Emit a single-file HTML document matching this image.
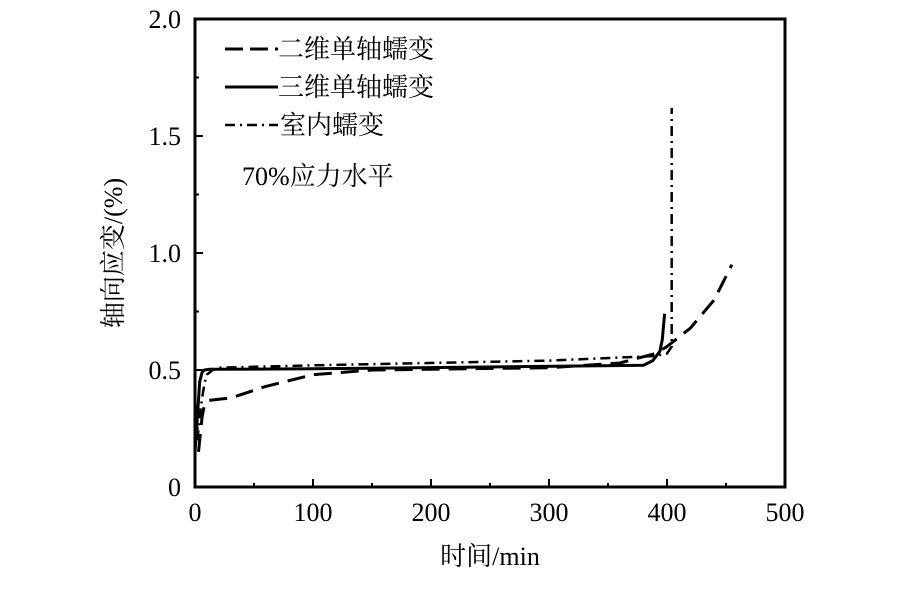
<!DOCTYPE html>
<html><head><meta charset="utf-8"><style>
body{margin:0;background:#fff}
svg text{font-family:"Liberation Serif","Noto Serif CJK SC","Noto Sans CJK SC",serif;fill:#000}
</style></head><body>
<svg id="chart" width="919" height="586" viewBox="0 0 919 586" xmlns="http://www.w3.org/2000/svg">
<g id="axes"></g><g id="series"></g>
<g>
<line x1="225" y1="49" x2="278" y2="49" stroke="#000" stroke-width="3" stroke-dasharray="18,7"/>
<text x="278" y="58" font-size="26">二维单轴蠕变</text>
<line x1="225" y1="87" x2="278" y2="87" stroke="#000" stroke-width="3"/>
<text x="278" y="96" font-size="26">三维单轴蠕变</text>
<line x1="225" y1="125" x2="278" y2="125" stroke="#000" stroke-width="2.5" stroke-dasharray="10,5,2,5"/>
<text x="280" y="134" font-size="26">室内蠕变</text>
<text x="242" y="185" font-size="26">70%应力水平</text>
</g>
<text x="490" y="565" font-size="26" text-anchor="middle">时间/min</text>
<text transform="translate(122,253) rotate(-90)" font-size="26" text-anchor="middle">轴向应变/(%)</text>
</svg>
<script>
const xTicks=[0,100,200,300,400,500];
const xMinorTicks=[50,150,250,350,450];
const yTicks=[0,0.5,1.0,1.5,2.0];
const yMinorTicks=[0.25,0.75,1.25,1.75];
const yTickLabels=["0","0.5","1.0","1.5","2.0"];
const t2d=[3,6,8,12,20,30,60,100,150,300,360,390,400,420,440,455];
const e2d=[0.15,0.3,0.35,0.37,0.375,0.38,0.43,0.48,0.5,0.51,0.53,0.57,0.6,0.68,0.8,0.95];
const t3d=[0,2,4,6,8,12,100,380,388,394,396,398];
const e3d=[0.15,0.3,0.45,0.49,0.5,0.503,0.505,0.52,0.54,0.58,0.63,0.74];
const tLab=[2,4,6,8,10,15,20,100,300,390,400,404,404];
const eLab=[0.2,0.3,0.38,0.44,0.48,0.5,0.51,0.52,0.54,0.56,0.57,0.6,1.62];
const X0=195,X1=785,Y0=487,Y1=19;
const sx=v=>X0+(v/500)*(X1-X0), sy=v=>Y0-(v/2)*(Y0-Y1);
const NS="http://www.w3.org/2000/svg";
const ax=document.getElementById('axes'), se=document.getElementById('series');
function mk(tag,attrs,parent){const e=document.createElementNS(NS,tag);for(const k in attrs)e.setAttribute(k,attrs[k]);parent.appendChild(e);return e;}
const frame=mk('rect',{x:X0,y:Y1,width:X1-X0,height:Y0-Y1,fill:'none',stroke:'#000','stroke-width':3},ax);


xTicks.forEach(v=>{
 const t=mk('line',{x1:sx(v),x2:sx(v),y1:Y0,y2:Y0-8,stroke:'#000','stroke-width':2},ax);
 
 
 const l=mk('text',{x:sx(v),y:Y0+34,'font-size':26,'text-anchor':'middle'},ax);l.textContent=v;
 
 
});
xMinorTicks.forEach(v=>{
 const t=mk('line',{x1:sx(v),x2:sx(v),y1:Y0,y2:Y0-4,stroke:'#000','stroke-width':2},ax);
 
 
});
yTicks.forEach((v,i)=>{
 const t=mk('line',{x1:X0,x2:X0+8,y1:sy(v),y2:sy(v),stroke:'#000','stroke-width':2},ax);
 
 
 const l=mk('text',{x:X0-14,y:sy(v)+9,'font-size':26,'text-anchor':'end'},ax);l.textContent=yTickLabels[i];
 
 
});
yMinorTicks.forEach(v=>{
 const t=mk('line',{x1:X0,x2:X0+4,y1:sy(v),y2:sy(v),stroke:'#000','stroke-width':2},ax);
 
 
});
function line(ts,es,dash,w,name){
 const d=ts.map((t,i)=>(i?'L':'M')+sx(t).toFixed(1)+','+sy(es[i]).toFixed(1)).join(' ');
 const p=mk('path',{d:d,fill:'none',stroke:'#000','stroke-width':w,'stroke-dasharray':dash,'stroke-linejoin':'round'},se);
 
 
}
line(t2d,e2d,'18,9',3,'series-2d-creep');
line(t3d,e3d,'none',3,'series-3d-creep');
line(tLab,eLab,'10,5,2,5',2.5,'series-lab-creep');
</script>
</body></html>
